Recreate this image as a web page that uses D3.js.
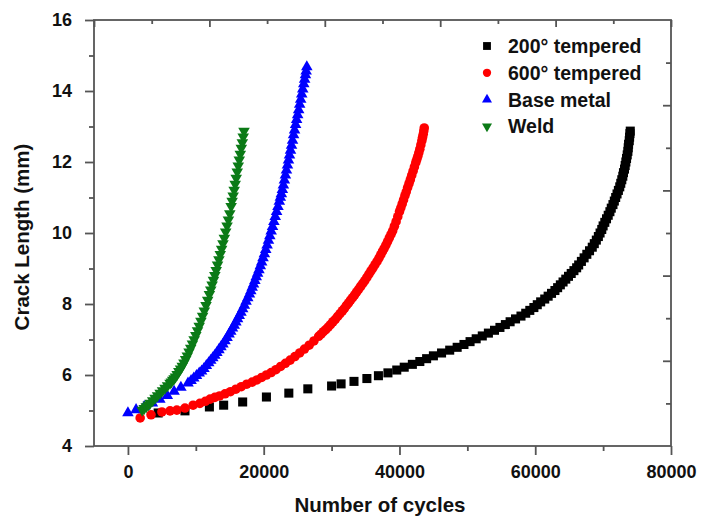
<!DOCTYPE html>
<html>
<head>
  <script src="https://d3js.org/d3.v7.min.js"></script>
  <style>
    body { margin: 0; background: #fff; }
    .tick text { font-family: "Liberation Sans", Arial, sans-serif; font-weight: bold; font-size: 18px; fill: #111; }
    .axis path, .axis line { stroke: #555; stroke-width: 1.8px; }
    .title { font-family: "Liberation Sans", Arial, sans-serif; font-weight: bold; font-size: 20.5px; fill: #111; }
    .legend text { font-family: "Liberation Sans", Arial, sans-serif; font-weight: bold; font-size: 19.5px; fill: #111; }
  </style>
</head>
<body>
<svg width="702" height="523"></svg>
<script>
// [cycles, crack length mm]
const tempered200 = [
  [4450,4.93],[8400,4.99],[12000,5.1],[14100,5.15],[16900,5.24],[20400,5.38],[23700,5.49],[26500,5.61],
  [30000,5.69],[31400,5.75],[33300,5.82],[35200,5.9],[36900,5.98],[38300,6.06],[39600,6.14],[40700,6.22],
  [41900,6.3],[43000,6.38],[44000,6.46],[45000,6.54],[46200,6.62],[47400,6.7],[48500,6.78],[49500,6.86],
  [50400,6.94],[51300,7.02],[52200,7.1],[53100,7.18],[54000,7.26],[54800,7.34],[55600,7.42],[56300,7.5],
  [57100,7.58],[57900,7.66],[58600,7.74],[59200,7.82],[59800,7.9],[60300,7.98],[60800,8.06],[61400,8.14],
  [61900,8.22],[62400,8.3],[62900,8.38],[63300,8.46],[63700,8.54],[64100,8.62],[64500,8.7],[64900,8.78],
  [65300,8.86],[65700,8.94],[66100,9.02],[66400,9.1],[66800,9.2],[67200,9.3],[67600,9.4],[68000,9.5],
  [68400,9.6],[68700,9.7],[69000,9.8],[69300,9.9],[69550,10.0],[69800,10.1],[70000,10.2],[70250,10.3],
  [70500,10.4],[70750,10.5],[71000,10.6],[71200,10.7],[71450,10.8],[71650,10.9],[71850,11.0],[72050,11.1],
  [72250,11.2],[72450,11.3],[72600,11.4],[72750,11.5],[72900,11.6],[73000,11.7],[73150,11.8],[73250,11.9],
  [73350,12.0],[73450,12.1],[73550,12.2],[73650,12.3],[73700,12.4],[73750,12.5],[73850,12.6],[73900,12.7],
  [73950,12.8],[74000,12.87]
];
const tempered600 = [
  [1800,4.79],[3400,4.88],[5000,4.96],[6200,4.99],[7200,5.01],[8400,5.07],[9600,5.15],[10600,5.2],
  [11400,5.26],[12100,5.32],[12800,5.37],[13500,5.41],[14300,5.47],[15100,5.53],[15900,5.6],[16700,5.67],
  [17500,5.74],[18300,5.8],[19000,5.86],[19700,5.93],[20400,6.0],[21100,6.07],[21800,6.15],[22500,6.24],
  [23200,6.33],[23900,6.42],[24600,6.52],[25300,6.62],[26000,6.73],[26700,6.84],[27400,6.96],[28100,7.09],
  [28450,7.15],[28800,7.22],[29150,7.28],[29500,7.35],[29850,7.42],[30200,7.5],[30550,7.57],[30900,7.65],
  [31250,7.73],[31600,7.81],[31900,7.88],[32200,7.96],[32500,8.03],[32800,8.11],[33100,8.18],[33400,8.26],
  [33700,8.34],[34000,8.42],[34300,8.5],[34600,8.58],[34900,8.66],[35200,8.75],[35500,8.84],[35800,8.93],
  [36100,9.02],[36400,9.11],[36700,9.2],[37000,9.3],[37250,9.39],[37500,9.48],[37750,9.57],[38000,9.66],
  [38250,9.76],[38500,9.86],[38750,9.96],[39000,10.06],[39250,10.19],[39500,10.32],[39750,10.46],[40000,10.6],
  [40200,10.71],[40400,10.82],[40600,10.93],[40800,11.05],[41000,11.16],[41200,11.28],[41400,11.39],
  [41600,11.5],[41800,11.62],[42000,11.74],[42200,11.86],[42400,11.98],[42550,12.07],[42700,12.16],
  [42850,12.26],[43000,12.36],[43150,12.48],[43300,12.6],[43400,12.69],[43500,12.78],[43580,12.87],[43650,12.96]
];
const baseMetal = [
  [0,4.93],[1200,5.02],[2400,5.11],[3600,5.21],[4700,5.31],[5800,5.42],[6800,5.54],[7800,5.65],
  [8850,5.77],[9300,5.84],[9700,5.91],[10100,5.98],[10500,6.05],[10850,6.11],[11200,6.18],[11550,6.26],
  [11900,6.34],[12200,6.41],[12500,6.48],[12800,6.55],[13100,6.63],[13400,6.71],[13700,6.79],[14000,6.87],
  [14300,6.96],[14600,7.05],[14900,7.15],[15150,7.23],[15400,7.32],[15650,7.4],[15900,7.49],[16150,7.58],
  [16400,7.67],[16650,7.76],[16900,7.86],[17150,7.96],[17400,8.07],[17650,8.17],[17900,8.28],[18100,8.37],
  [18300,8.47],[18500,8.56],[18700,8.66],[18900,8.76],[19100,8.86],[19300,8.96],[19500,9.07],[19700,9.18],
  [19900,9.3],[20100,9.41],[20300,9.53],[20500,9.66],[20700,9.79],[20900,9.92],[21100,10.05],[21300,10.18],
  [21500,10.32],[21700,10.46],[21900,10.6],[22100,10.74],[22300,10.89],[22450,11.0],[22600,11.1],
  [22750,11.22],[22900,11.35],[23050,11.49],[23200,11.63],[23350,11.77],[23500,11.91],[23650,12.05],
  [23800,12.19],[23950,12.33],[24100,12.47],[24250,12.61],[24400,12.76],[24550,12.9],[24700,13.05],
  [24850,13.19],[25000,13.33],[25150,13.47],[25300,13.62],[25450,13.76],[25600,13.91],[25750,14.05],
  [25900,14.2],[26030,14.33],[26150,14.45],[26250,14.56],[26350,14.68]
];
const weld = [
  [2100,5.01],[2400,5.06],[2700,5.11],[3000,5.16],[3270,5.21],[3650,5.28],[4000,5.35],[4370,5.42],
  [4740,5.49],[5100,5.56],[5470,5.63],[5840,5.7],[6210,5.77],[6400,5.81],[6600,5.86],[6800,5.9],
  [7000,5.95],[7250,6.02],[7500,6.1],[7750,6.17],[8000,6.25],[8250,6.34],[8500,6.44],[8750,6.54],
  [9000,6.65],[9250,6.76],[9500,6.88],[9750,7.0],[10000,7.12],[10250,7.25],[10500,7.38],[10750,7.52],
  [11000,7.66],[11250,7.81],[11500,7.96],[11750,8.11],[12000,8.27],[12200,8.4],[12400,8.54],[12600,8.67],
  [12800,8.81],[13000,8.95],[13200,9.1],[13400,9.25],[13600,9.4],[13800,9.55],[14000,9.7],[14200,9.86],
  [14400,10.03],[14600,10.2],[14800,10.37],[15000,10.55],[15200,10.75],[15350,10.9],[15500,11.05],
  [15650,11.21],[15800,11.38],[15950,11.55],[16100,11.72],[16250,11.89],[16400,12.06],[16550,12.22],
  [16700,12.39],[16850,12.55],[16980,12.71],[17100,12.87]
];

const seriesNames = ["200\u00b0 tempered", "600\u00b0 tempered", "Base metal", "Weld"];
const seriesColors = ["#000000", "#ff0000", "#0000ff", "#0b7a16"];
const xTicks = [0, 20000, 40000, 60000, 80000];
const yTicks = [4, 6, 8, 10, 12, 14, 16];

const svg = d3.select("svg");
const mLeft = 94, mRight = 671, mTop = 20, mBottom = 446;

const x = d3.scaleLinear().domain([-5000, 80000]).range([mLeft, mRight]);
const y = d3.scaleLinear().domain([4, 16]).range([mBottom, mTop]);

// frame
svg.append("rect").attr("x", mLeft).attr("y", mTop)
  .attr("width", mRight - mLeft).attr("height", mBottom - mTop)
  .attr("fill", "none").attr("stroke", "#555").attr("stroke-width", 1.8);

// bottom axis
svg.append("g").attr("class", "axis").attr("transform", `translate(0,${mBottom})`)
  .call(d3.axisBottom(x).tickValues([10000, 30000, 50000, 70000]).tickSize(5).tickFormat(""))
  .call(g => g.select(".domain").remove());
svg.append("g").attr("class", "axis").attr("transform", `translate(0,${mBottom})`)
  .call(d3.axisBottom(x).tickValues(xTicks).tickSize(9).tickPadding(10).tickFormat(d3.format("d")))
  .call(g => g.select(".domain").remove());

// left axis
svg.append("g").attr("class", "axis").attr("transform", `translate(${mLeft},0)`)
  .call(d3.axisLeft(y).tickValues([5, 7, 9, 11, 13, 15]).tickSize(5).tickFormat(""))
  .call(g => g.select(".domain").remove());
svg.append("g").attr("class", "axis").attr("transform", `translate(${mLeft},0)`)
  .call(d3.axisLeft(y).tickValues(yTicks).tickSize(9).tickPadding(13))
  .call(g => g.select(".domain").remove());

// mirrored top and right axes (ticks only, pointing inward)
const tx = d3.scaleLinear().domain([0, 10]).range([mLeft, mRight]);
const ty = d3.scaleLinear().domain([0, 10]).range([mTop, mBottom]);
svg.append("g").attr("class", "axis").attr("transform", `translate(0,${mTop})`)
  .call(d3.axisTop(tx).tickValues(d3.range(0, 11)).tickFormat("").tickSizeOuter(0)
    .tickSizeInner(-5))
  .call(g => g.select(".domain").remove())
  .selectAll(".tick line").attr("y2", d => d % 2 === 0 ? 7 : 4);
svg.append("g").attr("class", "axis").attr("transform", `translate(${mRight},0)`)
  .call(d3.axisRight(ty).tickValues(d3.range(1, 10)).tickFormat("").tickSizeOuter(0)
    .tickSizeInner(-5))
  .call(g => g.select(".domain").remove())
  .selectAll(".tick line").attr("x2", d => d % 2 === 0 ? -8 : -5);

// markers
const shapes = [d3.symbolSquare, d3.symbolCircle, d3.symbolTriangle, d3.symbolTriangle];
const sizes = [82, 72, 58, 58];
const rot = [0, 0, 0, 180];
const allSeries = [tempered200, tempered600, baseMetal, weld];

allSeries.forEach((data, i) => {
  svg.append("g").selectAll("path")
    .data(data).join("path")
    .attr("d", d3.symbol().type(shapes[i]).size(sizes[i]))
    .attr("transform", d => `translate(${x(d[0])},${y(d[1])}) rotate(${rot[i]})`)
    .attr("fill", seriesColors[i]);
});

// legend
const legend = svg.append("g").attr("class", "legend");
seriesNames.forEach((name, i) => {
  const ly = 46 + i * 26.8;
  legend.append("path")
    .attr("d", d3.symbol().type(shapes[i]).size(sizes[i] * 0.75))
    .attr("transform", `translate(487,${ly}) rotate(${rot[i]})`)
    .attr("fill", seriesColors[i]);
  legend.append("text").attr("x", 508).attr("y", ly + 7).text(name);
});

// titles
svg.append("text").attr("class", "title")
  .attr("x", 380).attr("y", 512).attr("text-anchor", "middle")
  .text("Number of cycles");
svg.append("text").attr("class", "title")
  .attr("transform", `translate(29,237) rotate(-90)`)
  .attr("text-anchor", "middle")
  .text("Crack Length (mm)");
</script>
</body>
</html>
